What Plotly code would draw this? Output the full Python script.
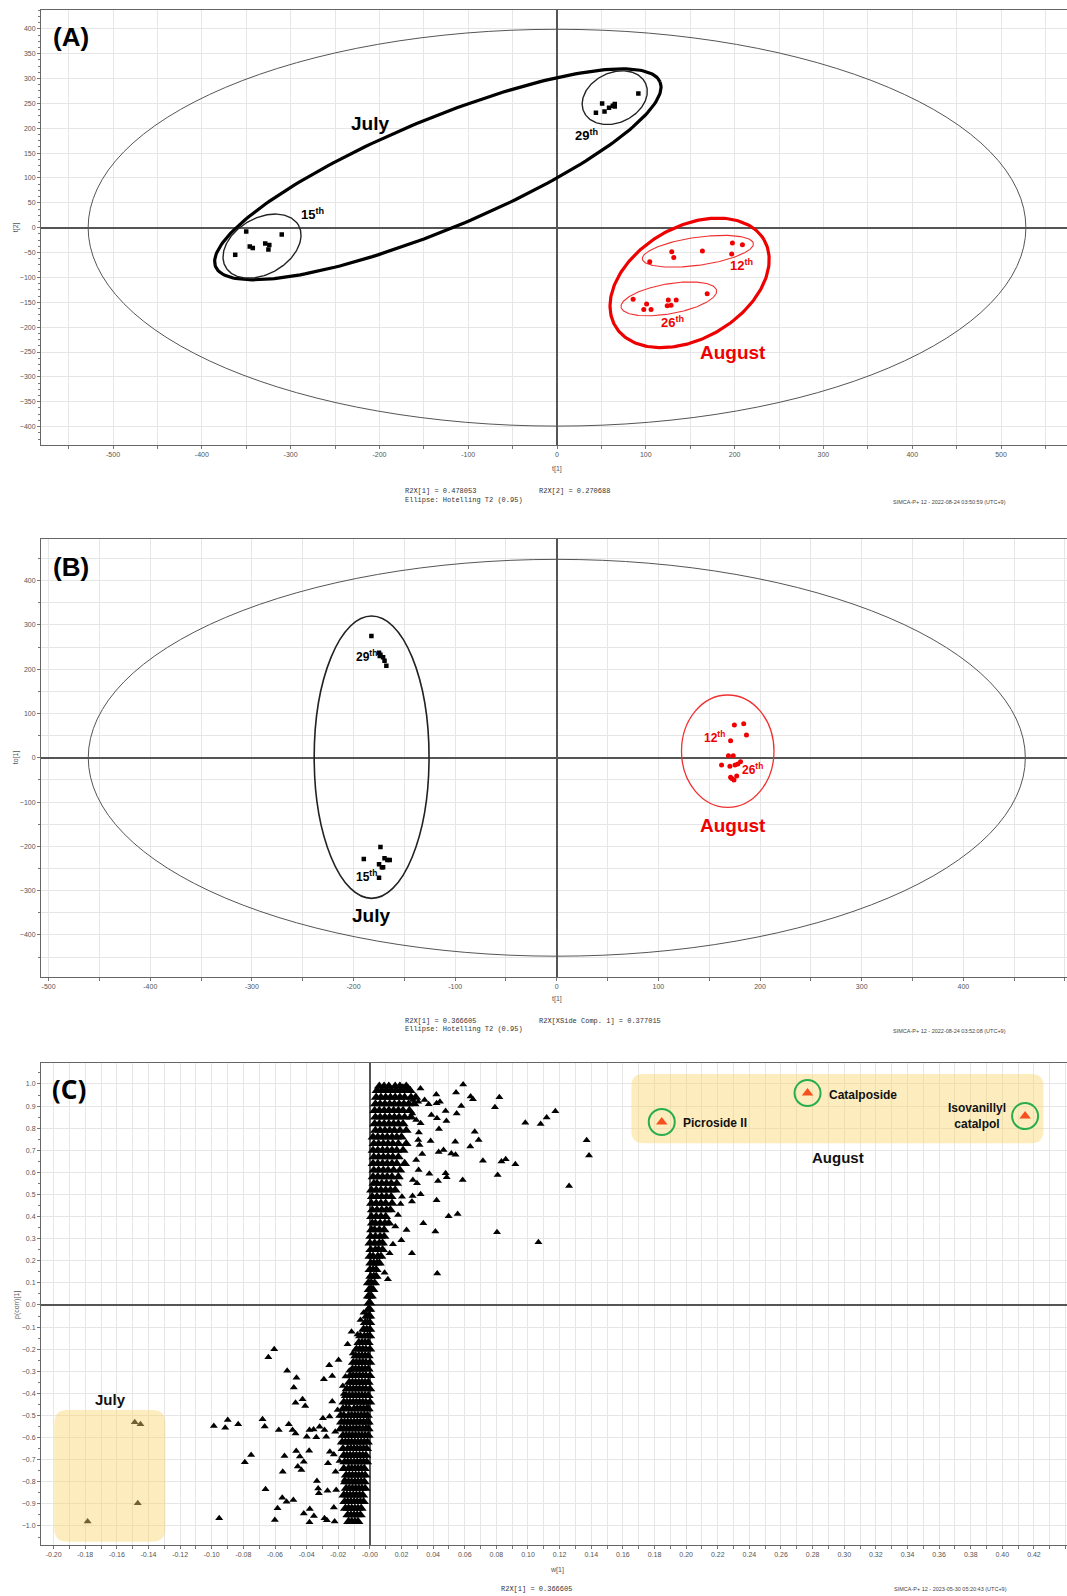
import numpy as np
import plotly.graph_objects as go

W, H = 1067, 1596

# ---------------- Panel A : PCA scores t[1] / t[2] ----------------
a_jul15_x = [-362.4, -350.0, -346.0, -342.6, -328.6, -324.0, -325.0, -310.0]
a_jul15_y = [-54.5, -7.5, -37.6, -41.0, -31.6, -35.0, -43.7, -13.5]
a_jul29_x = [43.8, 50.8, 53.5, 58.6, 62.8, 65.0, 65.0, 91.6]
a_jul29_y = [231.0, 249.8, 233.7, 241.0, 245.0, 249.0, 243.8, 270.0]
a_aug12_x = [104.4, 129.2, 131.5, 163.7, 197.5, 208.8, 196.7]
a_aug12_y = [-68.5, -48.4, -59.8, -47.0, -31.0, -34.3, -53.0]
a_aug26_x = [85.7, 100.9, 97.7, 105.9, 125.3, 134.2, 124.1, 128.4, 169.1]
a_aug26_y = [-144.0, -153.6, -164.3, -164.3, -145.5, -145.5, -157.0, -156.2, -132.8]
a_hotelling = [528, 399]
# group ellipses: centre and two conjugate half-axes (data units)
a_ell_names = ["July", "15th", "29th", "August", "12th", "26th"]
a_ell_cx = [-134.2, -332.2, 65.0, 149.3, 158.6, 125.9]
a_ell_cy = [107.3, -37.0, 261.5, -111.0, -47.4, -143.1]
a_ell_ux = [250.2, 41.0, 34.7, 83.9, 62.5, 53.8]
a_ell_uy = [185.9, 42.2, 28.9, 86.4, 15.7, 16.9]
a_ell_vx = [23.8, 15.8, 11.9, 31.5, 2.2, 2.9]
a_ell_vy = [-102.1, -48.7, -45.6, -97.5, -27.9, -29.7]

# ---------------- Panel B : OPLS-DA scores t[1] / to[1] ----------------
b_jul29_x = [-182.4, -174.9, -174.2, -170.9, -169.5, -167.7, -173.5]
b_jul29_y = [275.0, 237.3, 229.8, 226.9, 219.2, 208.0, 232.8]
b_jul15_x = [-173.5, -189.9, -174.9, -172.1, -169.5, -166.7, -164.4, -174.9, -170.9]
b_jul15_y = [-201.4, -228.5, -240.5, -247.3, -227.0, -230.8, -230.8, -270.7, -247.3]
b_aug_x = [174.7, 183.9, 186.6, 171.0, 168.9, 173.6, 162.1, 170.3, 175.4, 178.1, 180.8, 171.0, 174.3, 177.0, 172.2]
b_aug_y = [74.0, 77.0, 51.5, 38.6, 4.7, 4.7, -16.3, -19.2, -16.3, -14.0, -8.8, -44.0, -50.0, -41.0, -47.0]
b_hotelling = [461, 448]
b_jul_ell = [-182.2, 1.3, 56.5, 318.7]   # cx, cy, rx, ry
b_aug_ell = [168.2, 15.0, 45.5, 126.8]

# ---------------- Panel C : S-plot w[1] / p(corr)[1] ----------------
c_up_rows_y = [0.99, 0.97, 0.94, 0.91, 0.88, 0.85, 0.82, 0.79, 0.76, 0.73, 0.70, 0.67, 0.64, 0.61,
               0.58, 0.55, 0.52, 0.49, 0.46, 0.43, 0.40, 0.37, 0.34, 0.31, 0.28, 0.25, 0.22, 0.19,
               0.16, 0.13, 0.10, 0.07, 0.04, 0.01]
c_up_rows_x = [
    [0.006, 0.009, 0.012, 0.016, 0.019, 0.023],
    [0.0045, 0.0075, 0.0105, 0.0135, 0.0165, 0.0195, 0.0225, 0.0255],
    [0.004, 0.007, 0.010, 0.013, 0.016, 0.019, 0.022, 0.026, 0.029],
    [0.0035, 0.0065, 0.0095, 0.0125, 0.0155, 0.0185, 0.0215, 0.0245, 0.028],
    [0.003, 0.006, 0.009, 0.012, 0.015, 0.018, 0.021, 0.025],
    [0.0035, 0.0065, 0.0095, 0.0125, 0.0155, 0.0185, 0.022, 0.026],
    [0.003, 0.006, 0.009, 0.012, 0.015, 0.018, 0.021],
    [0.0035, 0.0065, 0.0095, 0.0125, 0.0155, 0.019, 0.023],
    [0.002, 0.005, 0.008, 0.011, 0.014, 0.017, 0.020],
    [0.0025, 0.0055, 0.0085, 0.0115, 0.0145, 0.018, 0.023],
    [0.002, 0.005, 0.008, 0.011, 0.014, 0.017, 0.021],
    [0.0025, 0.0055, 0.0085, 0.0115, 0.0145, 0.018],
    [0.002, 0.005, 0.008, 0.011, 0.014, 0.017, 0.022],
    [0.0025, 0.0055, 0.0085, 0.0115, 0.015, 0.019],
    [0.002, 0.005, 0.008, 0.011, 0.014, 0.018],
    [0.0025, 0.0045, 0.0075, 0.0105, 0.0135, 0.017],
    [0.001, 0.004, 0.007, 0.010, 0.013, 0.016],
    [0.0015, 0.0045, 0.0075, 0.0105, 0.0135],
    [0.001, 0.004, 0.007, 0.010, 0.014],
    [0.0015, 0.0045, 0.0075, 0.0105, 0.013],
    [0.001, 0.004, 0.007, 0.010],
    [0.0015, 0.0035, 0.0065, 0.0095, 0.012],
    [0.001, 0.003, 0.006, 0.009],
    [0.0005, 0.0035, 0.0065, 0.009],
    [0.000, 0.003, 0.006, 0.008],
    [0.0005, 0.0035, 0.0055, 0.008],
    [0.000, 0.002, 0.005, 0.007],
    [0.0005, 0.0025, 0.0045, 0.006],
    [0.000, 0.002, 0.004],
    [0.0005, 0.0025, 0.004],
    [-0.001, 0.001, 0.003],
    [-0.0005, 0.001, 0.002],
    [-0.001, 0.000, 0.001],
    [-0.0005, 0.000],
]
c_lo_rows_y = [-0.02, -0.05, -0.08, -0.11, -0.14, -0.17, -0.20, -0.23, -0.26, -0.29, -0.32, -0.35,
               -0.38, -0.41, -0.44, -0.47, -0.50, -0.53, -0.56, -0.59, -0.62, -0.65, -0.68, -0.71,
               -0.74, -0.77, -0.80, -0.83, -0.86, -0.89, -0.92, -0.95, -0.98]
c_lo_rows_x = [
    [-0.001, 0.000],
    [-0.002, -0.001, 0.000],
    [-0.003, -0.0015, 0.000],
    [-0.004, -0.002, 0.000],
    [-0.006, -0.0035, -0.0015, 0.000],
    [-0.007, -0.005, -0.003, -0.001],
    [-0.0085, -0.0065, -0.0045, -0.0025, 0.000],
    [-0.009, -0.007, -0.005, -0.003, -0.001],
    [-0.0105, -0.0085, -0.0065, -0.0045, -0.0025, 0.000],
    [-0.011, -0.009, -0.007, -0.005, -0.003, -0.001],
    [-0.0125, -0.0105, -0.0085, -0.0065, -0.0045, -0.0025, 0.000],
    [-0.013, -0.011, -0.009, -0.007, -0.005, -0.003, -0.001],
    [-0.0145, -0.0125, -0.0105, -0.0085, -0.0065, -0.0045, -0.0025, 0.000],
    [-0.015, -0.013, -0.011, -0.009, -0.007, -0.005, -0.003, -0.001],
    [-0.0165, -0.0145, -0.0125, -0.0105, -0.0085, -0.0065, -0.0045, -0.0025, 0.000],
    [-0.017, -0.015, -0.013, -0.010, -0.008, -0.006, -0.004, -0.002, -0.001],
    [-0.0185, -0.0165, -0.0135, -0.0115, -0.0095, -0.0075, -0.0055, -0.0035, -0.0015],
    [-0.018, -0.016, -0.014, -0.012, -0.010, -0.008, -0.006, -0.004, -0.002, -0.001],
    [-0.0185, -0.0165, -0.0145, -0.0125, -0.0105, -0.0085, -0.0065, -0.0045, -0.0025, -0.001],
    [-0.017, -0.015, -0.013, -0.011, -0.009, -0.007, -0.005, -0.003, -0.001],
    [-0.0175, -0.0155, -0.0135, -0.0115, -0.0095, -0.0075, -0.0055, -0.0035, -0.0015],
    [-0.017, -0.014, -0.012, -0.010, -0.008, -0.006, -0.004, -0.002],
    [-0.0165, -0.0145, -0.0125, -0.0105, -0.0085, -0.0065, -0.0045, -0.0025],
    [-0.016, -0.014, -0.012, -0.010, -0.008, -0.006, -0.004, -0.002],
    [-0.0165, -0.0135, -0.0115, -0.0095, -0.0075, -0.0055, -0.0035],
    [-0.015, -0.013, -0.011, -0.009, -0.007, -0.005, -0.003],
    [-0.0155, -0.0135, -0.0115, -0.0095, -0.0075, -0.0055, -0.0035],
    [-0.015, -0.013, -0.011, -0.009, -0.007, -0.005, -0.003],
    [-0.0165, -0.0145, -0.0125, -0.0105, -0.0085, -0.0065, -0.0045],
    [-0.016, -0.014, -0.012, -0.010, -0.008, -0.006, -0.004],
    [-0.0155, -0.0135, -0.0115, -0.0095, -0.0075, -0.0055],
    [-0.014, -0.012, -0.010, -0.008, -0.006],
    [-0.0135, -0.0115, -0.0095, -0.0075],
]
c_out_up_x = [0.059, 0.032, 0.042, 0.0545, 0.0637, 0.0652, 0.0819, 0.0791, 0.0578, 0.0549, 0.0479, 0.0422,
              0.0443, 0.0389, 0.0424, 0.0484, 0.0437, 0.0663, 0.0688, 0.0540, 0.0384, 0.0635, 0.0466,
              0.0435, 0.0515, 0.0542, 0.0715, 0.0832, 0.0859, 0.0920, 0.0808, 0.0479, 0.0486, 0.0376,
              0.0587, 0.0431, 0.0321, 0.0270, 0.0266, 0.0422, 0.0498, 0.0555, 0.0338, 0.0232, 0.0414,
              0.0804, 0.0199, 0.0266, 0.0426, 0.0983, 0.1080, 0.1118, 0.1173, 0.1371, 0.1386, 0.1260,
              0.1066, 0.0114, 0.0093, 0.0125, 0.0146, 0.0161, 0.0178, 0.0194, 0.0203, 0.0272, 0.0298,
              0.0308, 0.0293, 0.0331, 0.0314, 0.0306, 0.0310, 0.0321, 0.0293, 0.0268, 0.0272, 0.0306,
              0.0346, 0.0372, 0.0241, 0.0188, 0.0209]
c_out_up_y = [0.998, 0.980, 0.953, 0.961, 0.943, 0.931, 0.940, 0.895, 0.900, 0.867, 0.878, 0.913,
              0.920, 0.860, 0.845, 0.833, 0.796, 0.784, 0.747, 0.739, 0.742, 0.717, 0.701,
              0.692, 0.686, 0.680, 0.653, 0.649, 0.659, 0.637, 0.588, 0.596, 0.578, 0.594,
              0.566, 0.561, 0.501, 0.493, 0.468, 0.474, 0.401, 0.412, 0.370, 0.339, 0.333,
              0.329, 0.293, 0.234, 0.143, 0.825, 0.819, 0.848, 0.877, 0.745, 0.676, 0.538,
              0.284, 0.116, 0.146, 0.234, 0.275, 0.355, 0.407, 0.457, 0.490, 0.566, 0.551,
              0.611, 0.656, 0.683, 0.724, 0.747, 0.780, 0.822, 0.837, 0.867, 0.928, 0.920,
              0.928, 0.908, 0.985, 0.991, 0.988]
c_out_lo_x = [-0.0605, -0.0642, -0.0523, -0.0464, -0.0481, -0.0470, -0.0426, -0.0409, -0.0257, -0.0198,
              -0.0291, -0.0238, -0.0679, -0.0665, -0.0576, -0.0513, -0.0489, -0.0470, -0.0899, -0.0915,
              -0.0987, -0.0833, -0.0751, -0.0791, -0.0540, -0.0466, -0.0443, -0.0418, -0.0456, -0.0433,
              -0.0551, -0.0384, -0.0660, -0.0554, -0.0527, -0.0484, -0.0584, -0.0953, -0.0601, -0.0418,
              -0.0380, -0.0354, -0.0382, -0.0287, -0.0272, -0.0228, -0.0223, -0.0335, -0.0327, -0.0323,
              -0.0268, -0.0213, -0.0382, -0.0339, -0.0399, -0.0356, -0.0318, -0.0287, -0.0255, -0.0238,
              -0.0204, -0.0171, -0.0165, -0.0154, -0.0130, -0.0116, -0.0108, -0.0078, -0.0059, -0.0040,
              -0.0141, -0.0253, -0.0265, -0.0228, -0.0217, -0.0192, -0.0160, -0.0276, -0.0219, -0.0297]
c_out_lo_y = [-0.200, -0.237, -0.297, -0.329, -0.373, -0.442, -0.427, -0.457, -0.273, -0.249,
              -0.336, -0.321, -0.517, -0.550, -0.566, -0.540, -0.566, -0.581, -0.520, -0.555,
              -0.547, -0.540, -0.679, -0.712, -0.683, -0.661, -0.686, -0.709, -0.731, -0.747,
              -0.754, -0.659, -0.834, -0.872, -0.890, -0.882, -0.920, -0.965, -0.973, -0.944,
              -0.923, -0.955, -0.983, -0.965, -0.974, -0.916, -0.980, -0.796, -0.830, -0.852,
              -0.840, -0.837, -0.566, -0.599, -0.596, -0.563, -0.551, -0.566, -0.505, -0.437,
              -0.475, -0.366, -0.403, -0.324, -0.297, -0.121, -0.219, -0.134, -0.068, -0.035,
              -0.178, -0.664, -0.716, -0.676, -0.754, -0.706, -0.792, -0.596, -0.573, -0.513]
c_july_x = [-0.1785, -0.1487, -0.1451, -0.1468]
c_july_y = [-0.980, -0.531, -0.540, -0.897]
c_key_names = ["Picroside II", "Catalposide", "Isovanillyl catalpol"]
c_key_x = [0.1846, 0.2768, 0.4144]
c_key_y = [0.828, 0.959, 0.855]
c_july_box = [-0.1996, -0.1293, -1.071, -0.475]
c_aug_box = [0.1654, 0.4260, 0.732, 1.045]

# ---------------- figure ----------------
RED = "#F00000"
TF = "Liberation Sans, Arial, sans-serif"
fig = go.Figure()


def ellipse_pts(cx, cy, ux, uy, vx, vy):
    t = np.linspace(0, 2 * np.pi, 241)
    return cx + ux * np.cos(t) + vx * np.sin(t), cy + uy * np.cos(t) + vy * np.sin(t)


def line_trace(x, y, color, width, xa, ya):
    return go.Scatter(x=x, y=y, mode="lines", line=dict(color=color, width=width),
                      xaxis=xa, yaxis=ya, hoverinfo="skip", showlegend=False)


def pts(x, y, xa, ya, color, symbol, size):
    return go.Scatter(x=x, y=y, mode="markers", xaxis=xa, yaxis=ya, showlegend=False,
                      marker=dict(color=color, symbol=symbol, size=size, line=dict(width=0)))


# Panel A
a_ell_col = ["black", "#222222", "#222222", "#EE0000", "#F03030", "#F03030"]
a_ell_w = [3.2, 1.4, 1.4, 3.2, 1.1, 1.1]
for i in range(len(a_ell_names)):
    ex, ey = ellipse_pts(a_ell_cx[i], a_ell_cy[i], a_ell_ux[i], a_ell_uy[i], a_ell_vx[i], a_ell_vy[i])
    fig.add_trace(line_trace(ex, ey, a_ell_col[i], a_ell_w[i], "x", "y"))
fig.add_trace(pts(a_jul15_x, a_jul15_y, "x", "y", "black", "square", 4.5))
fig.add_trace(pts(a_jul29_x, a_jul29_y, "x", "y", "black", "square", 4.5))
fig.add_trace(pts(a_aug12_x, a_aug12_y, "x", "y", RED, "circle", 5))
fig.add_trace(pts(a_aug26_x, a_aug26_y, "x", "y", RED, "circle", 5))

# Panel B
fig.add_trace(pts(b_jul29_x, b_jul29_y, "x2", "y2", "black", "square", 4.5))
fig.add_trace(pts(b_jul15_x, b_jul15_y, "x2", "y2", "black", "square", 4.5))
fig.add_trace(pts(b_aug_x, b_aug_y, "x2", "y2", RED, "circle", 5))

# Panel C
band_x, band_y = [], []
for yv, xs in zip(c_up_rows_y, c_up_rows_x):
    band_x += xs
    band_y += [yv] * len(xs)
for yv, xs in zip(c_lo_rows_y, c_lo_rows_x):
    band_x += xs
    band_y += [yv] * len(xs)
fig.add_trace(pts(band_x, band_y, "x3", "y3", "black", "triangle-up", 9.5))
fig.add_trace(pts(c_out_up_x + c_out_lo_x, c_out_up_y + c_out_lo_y, "x3", "y3", "black", "triangle-up", 7))
fig.add_trace(pts(c_july_x, c_july_y, "x3", "y3", "black", "triangle-up", 7))
fig.add_trace(pts(c_key_x, c_key_y, "x3", "y3", "#F4511E", "triangle-up", 10))
fig.add_trace(go.Scatter(x=c_key_x, y=c_key_y, mode="markers", xaxis="x3", yaxis="y3", showlegend=False,
                         marker=dict(symbol="circle-open", size=26, color="#27AE4A", line=dict(width=2, color="#27AE4A"))))

shapes = []
for xr, yr, ab in [("x", "y", a_hotelling), ("x2", "y2", b_hotelling)]:
    shapes.append(dict(type="circle", xref=xr, yref=yr, x0=-ab[0], x1=ab[0], y0=-ab[1], y1=ab[1],
                       line=dict(color="#555555", width=1)))
for e, col, w in [(b_jul_ell, "#222222", 1.6), (b_aug_ell, "#F03030", 1.3)]:
    shapes.append(dict(type="circle", xref="x2", yref="y2", x0=e[0] - e[2], x1=e[0] + e[2],
                       y0=e[1] - e[3], y1=e[1] + e[3], line=dict(color=col, width=w)))


def rounded_box(b, rx, ry):
    x0, x1, y0, y1 = b
    return (f"M {x0+rx},{y0} L {x1-rx},{y0} Q {x1},{y0} {x1},{y0+ry} L {x1},{y1-ry} "
            f"Q {x1},{y1} {x1-rx},{y1} L {x0+rx},{y1} Q {x0},{y1} {x0},{y1-ry} "
            f"L {x0},{y0+ry} Q {x0},{y0} {x0+rx},{y0} Z")


shapes.append(dict(type="path", xref="x3", yref="y3", path=rounded_box(c_july_box, 0.0085, 0.06),
                   fillcolor="rgba(250,214,110,0.45)", line=dict(width=0), layer="above"))
shapes.append(dict(type="path", xref="x3", yref="y3", path=rounded_box(c_aug_box, 0.0075, 0.055),
                   fillcolor="rgba(250,214,110,0.45)", line=dict(width=0), layer="between"))

ann = []


def A(text, x, y, xr, yr, size, color="black", xanchor="center", family=TF, angle=0):
    ann.append(dict(text=text, x=x, y=y, xref=xr, yref=yr, showarrow=False, xanchor=xanchor,
                    yanchor="middle", textangle=angle, font=dict(family=family, size=size, color=color)))


def P(text, px, py, size, color="#333333", family="Liberation Mono, monospace", xanchor="left", angle=0):
    A(text, px / W, 1 - py / H, "paper", "paper", size, color, xanchor, family, angle)


# Panel A labels
A("<b>(A)</b>", -570, 384, "x", "y", 26, xanchor="left")
A("<b>July</b>", -211, 209.6, "x", "y", 19)
A("<b>15<sup>th</sup></b>", -275.9, 28, "x", "y", 13)
A("<b>29<sup>th</sup></b>", 33.7, 187, "x", "y", 13)
A("<b>12<sup>th</sup></b>", 207.2, -76, "x", "y", 13, RED)
A("<b>26<sup>th</sup></b>", 130.6, -190, "x", "y", 13, RED)
A("<b>August</b>", 198.6, -251.5, "x", "y", 19, RED)
# Panel B labels
A("<b>(B)</b>", -498, 431.5, "x2", "y2", 26, xanchor="left")
A("<b>29<sup>th</sup></b>", -187.2, 229, "x2", "y2", 12)
A("<b>15<sup>th</sup></b>", -186.8, -267, "x2", "y2", 12)
A("<b>July</b>", -182.7, -356.5, "x2", "y2", 19)
A("<b>12<sup>th</sup></b>", 155, 47, "x2", "y2", 12, RED)
A("<b>26<sup>th</sup></b>", 192.3, -25, "x2", "y2", 12, RED)
A("<b>August</b>", 173.6, -154, "x2", "y2", 19, RED)
# Panel C labels
A("<b>(C)</b>", -0.2021, 0.977, "x3", "y3", 26, xanchor="left", family="Noto Sans, sans-serif")
A("<b>July</b>", -0.164, -0.427, "x3", "y3", 15, "#111111")
A("<b>August</b>", 0.2963, 0.667, "x3", "y3", 15, "#111111")
A("<b>Picroside II</b>", 0.1965, 0.824, "x3", "y3", 12, "#111111", xanchor="left")
A("<b>Catalposide</b>", 0.2889, 0.950, "x3", "y3", 12, "#111111", xanchor="left")
A("<b>Isovanillyl<br>catalpol</b>", 0.3838, 0.855, "x3", "y3", 12, "#111111")

# axis titles
P("t[1]", 557, 469, 7, "#555555", TF, "center")
P("t[2]", 15.5, 227.7, 7, "#555555", TF, "center", -90)
P("t[1]", 557, 999, 7, "#555555", TF, "center")
P("to[1]", 15.5, 757.7, 7, "#555555", TF, "center", -90)
P("w[1]", 557, 1570, 7, "#555555", TF, "center")
P("p(corr)[1]", 17, 1305, 7, "#555555", TF, "center", -90)
# info texts
P("R2X[1] = 0.478053", 403, 491, 7)
P("R2X[2] = 0.270688", 537.5, 491, 7)
P("Ellipse: Hotelling T2 (0.95)", 403, 500, 7)
P("SIMCA-P+ 12 - 2022-08-24 03:50:59 (UTC+9)", 891, 502, 5.5, "#444444", TF)
P("R2X[1] = 0.366605", 403, 1021, 7)
P("R2X[XSide Comp. 1] = 0.377015", 537.5, 1021, 7)
P("Ellipse: Hotelling T2 (0.95)", 403, 1029, 7)
P("SIMCA-P+ 12 - 2022-08-24 03:52:08 (UTC+9)", 891, 1031, 5.5, "#444444", TF)
P("R2X[1] = 0.366605", 499, 1589, 7)
P("SIMCA-P+ 12 - 2023-05-30 05:20:43 (UTC+9)", 892, 1589, 5.5, "#444444", TF)

base = dict(showline=True, linecolor="#666666", linewidth=1, showgrid=True, gridcolor="#E6E6E6",
            gridwidth=1, zeroline=True, zerolinecolor="#555555", zerolinewidth=1.5, ticks="outside",
            ticklen=3, tickcolor="#777777", tickfont=dict(family=TF, size=7, color="#555555"),
            fixedrange=True)

xdom = [41 / W, 1.0]
MINOR_STYLE = dict(ticks="outside", ticklen=3, tickcolor="#777777", showgrid=True, gridcolor="#E6E6E6")


def xax(vals, texts, rng, anchor, mdtick):
    d = dict(base)
    d.update(domain=xdom, range=rng, anchor=anchor, tickmode="array", tickvals=vals, ticktext=texts,
             mirror=True, minor=dict(tickmode="linear", tick0=0, dtick=mdtick, **MINOR_STYLE))
    return d


def yax(dom, rng, dtick, mdtick, anchor, fmt=None, mgrid=False):
    d = dict(base)
    d.update(domain=dom, range=rng, anchor=anchor, tickmode="linear", tick0=0, dtick=dtick,
             minor=dict(dtick=mdtick, ticks="outside", ticklen=2, tickcolor="#777777",
                        showgrid=mgrid, gridcolor="#E6E6E6"))
    if fmt:
        d["tickformat"] = fmt
    return d


ax_vals = list(range(-500, 501, 100))
ax_txt = [str(v) for v in ax_vals]
bx_vals = list(range(-500, 501, 100))
bx_txt = [str(v) for v in bx_vals]
cx_vals = [round(-0.20 + 0.02 * i, 2) for i in range(33)]
cx_txt = ["-0.00" if abs(v) < 1e-9 else f"{v:.2f}" for v in cx_vals]

fig.update_layout(
    width=W, height=H, margin=dict(l=0, r=0, t=0, b=0),
    paper_bgcolor="white", plot_bgcolor="white", showlegend=False,
    xaxis=xax(ax_vals, ax_txt, [-581.1, 574.3], "y", 50),
    yaxis=yax([1 - 445 / H, 1 - 9.7 / H], [-437, 438.4], 50, 12.5, "x"),
    xaxis2=xax(bx_vals, bx_txt, [-507.5, 502], "y2", 50),
    yaxis2=yax([1 - 976.7 / H, 1 - 539.3 / H], [-494.3, 493.3], 100, 50, "x2", mgrid=True),
    xaxis3=xax(cx_vals, cx_txt, [-0.208, 0.4409], "y3", 0.01),
    yaxis3=yax([1 - 1545 / H, 1 - 1063 / H], [-1.086, 1.095], 0.1, 0.05, "x3", fmt=".1f"),
    shapes=shapes, annotations=ann,
)

fig.write_html("out.html", config={"displayModeBar": False},
               post_script="document.body.style.margin='0px';document.body.style.padding='0px';")
